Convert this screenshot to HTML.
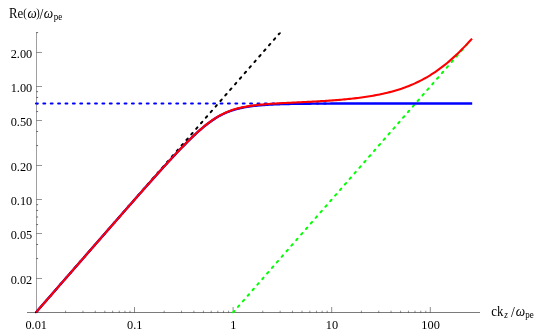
<!DOCTYPE html>
<html><head><meta charset="utf-8"><title>plot</title>
<style>
html,body{margin:0;padding:0;background:#fff;}
body{width:554px;height:336px;overflow:hidden;font-family:"Liberation Serif",serif;}
svg{display:block;will-change:transform}
</style></head><body>
<svg width="554" height="336" viewBox="0 0 554 336">
<rect width="554" height="336" fill="#fff"/>
<g fill="none" stroke="#000">
<line x1="27" y1="312.5" x2="480" y2="312.5" stroke-width="0.52"/>
<line x1="36.5" y1="32.1" x2="36.5" y2="312.7" stroke-width="0.38"/>
<line x1="65.58" y1="312.5" x2="65.58" y2="310.7" stroke-width="0.45"/>
<line x1="82.94" y1="312.5" x2="82.94" y2="310.7" stroke-width="0.45"/>
<line x1="95.26" y1="312.5" x2="95.26" y2="310.7" stroke-width="0.45"/>
<line x1="104.82" y1="312.5" x2="104.82" y2="310.7" stroke-width="0.45"/>
<line x1="112.63" y1="312.5" x2="112.63" y2="310.7" stroke-width="0.45"/>
<line x1="119.23" y1="312.5" x2="119.23" y2="310.7" stroke-width="0.45"/>
<line x1="124.94" y1="312.5" x2="124.94" y2="310.7" stroke-width="0.45"/>
<line x1="129.99" y1="312.5" x2="129.99" y2="310.7" stroke-width="0.45"/>
<line x1="134.50" y1="312.5" x2="134.50" y2="307" stroke-width="0.45"/>
<line x1="164.18" y1="312.5" x2="164.18" y2="310.7" stroke-width="0.45"/>
<line x1="181.54" y1="312.5" x2="181.54" y2="310.7" stroke-width="0.45"/>
<line x1="193.86" y1="312.5" x2="193.86" y2="310.7" stroke-width="0.45"/>
<line x1="203.42" y1="312.5" x2="203.42" y2="310.7" stroke-width="0.45"/>
<line x1="211.23" y1="312.5" x2="211.23" y2="310.7" stroke-width="0.45"/>
<line x1="217.83" y1="312.5" x2="217.83" y2="310.7" stroke-width="0.45"/>
<line x1="223.54" y1="312.5" x2="223.54" y2="310.7" stroke-width="0.45"/>
<line x1="228.59" y1="312.5" x2="228.59" y2="310.7" stroke-width="0.45"/>
<line x1="233.10" y1="312.5" x2="233.10" y2="307" stroke-width="0.45"/>
<line x1="262.78" y1="312.5" x2="262.78" y2="310.7" stroke-width="0.45"/>
<line x1="280.14" y1="312.5" x2="280.14" y2="310.7" stroke-width="0.45"/>
<line x1="292.46" y1="312.5" x2="292.46" y2="310.7" stroke-width="0.45"/>
<line x1="302.02" y1="312.5" x2="302.02" y2="310.7" stroke-width="0.45"/>
<line x1="309.83" y1="312.5" x2="309.83" y2="310.7" stroke-width="0.45"/>
<line x1="316.43" y1="312.5" x2="316.43" y2="310.7" stroke-width="0.45"/>
<line x1="322.14" y1="312.5" x2="322.14" y2="310.7" stroke-width="0.45"/>
<line x1="327.19" y1="312.5" x2="327.19" y2="310.7" stroke-width="0.45"/>
<line x1="331.70" y1="312.5" x2="331.70" y2="307" stroke-width="0.45"/>
<line x1="361.38" y1="312.5" x2="361.38" y2="310.7" stroke-width="0.45"/>
<line x1="378.74" y1="312.5" x2="378.74" y2="310.7" stroke-width="0.45"/>
<line x1="391.06" y1="312.5" x2="391.06" y2="310.7" stroke-width="0.45"/>
<line x1="400.62" y1="312.5" x2="400.62" y2="310.7" stroke-width="0.45"/>
<line x1="408.43" y1="312.5" x2="408.43" y2="310.7" stroke-width="0.45"/>
<line x1="415.03" y1="312.5" x2="415.03" y2="310.7" stroke-width="0.45"/>
<line x1="420.74" y1="312.5" x2="420.74" y2="310.7" stroke-width="0.45"/>
<line x1="425.79" y1="312.5" x2="425.79" y2="310.7" stroke-width="0.45"/>
<line x1="430.30" y1="312.5" x2="430.30" y2="307" stroke-width="0.45"/>
<line x1="36.5" y1="278.48" x2="42" y2="278.48" stroke-width="0.42"/>
<line x1="36.5" y1="258.59" x2="38.1" y2="258.59" stroke-width="0.6"/>
<line x1="36.5" y1="244.47" x2="38.1" y2="244.47" stroke-width="0.6"/>
<line x1="36.5" y1="233.52" x2="42" y2="233.52" stroke-width="0.42"/>
<line x1="36.5" y1="224.57" x2="38.1" y2="224.57" stroke-width="0.6"/>
<line x1="36.5" y1="217.00" x2="38.1" y2="217.00" stroke-width="0.6"/>
<line x1="36.5" y1="210.45" x2="38.1" y2="210.45" stroke-width="0.6"/>
<line x1="36.5" y1="204.67" x2="38.1" y2="204.67" stroke-width="0.6"/>
<line x1="36.5" y1="199.50" x2="42" y2="199.50" stroke-width="0.42"/>
<line x1="36.5" y1="165.48" x2="42" y2="165.48" stroke-width="0.42"/>
<line x1="36.5" y1="145.59" x2="38.1" y2="145.59" stroke-width="0.6"/>
<line x1="36.5" y1="131.47" x2="38.1" y2="131.47" stroke-width="0.6"/>
<line x1="36.5" y1="120.52" x2="42" y2="120.52" stroke-width="0.42"/>
<line x1="36.5" y1="111.57" x2="38.1" y2="111.57" stroke-width="0.6"/>
<line x1="36.5" y1="104.00" x2="38.1" y2="104.00" stroke-width="0.6"/>
<line x1="36.5" y1="97.45" x2="38.1" y2="97.45" stroke-width="0.6"/>
<line x1="36.5" y1="91.67" x2="38.1" y2="91.67" stroke-width="0.6"/>
<line x1="36.5" y1="86.50" x2="42" y2="86.50" stroke-width="0.42"/>
<line x1="36.5" y1="52.48" x2="42" y2="52.48" stroke-width="0.42"/>
<line x1="36.5" y1="32.59" x2="38.1" y2="32.59" stroke-width="0.6"/>
</g>
<clipPath id="pc"><rect x="26" y="32.6" width="456" height="280.9"/></clipPath>
<g clip-path="url(#pc)" fill="none">
<g stroke-width="2.0" stroke-dasharray="1.9 5.485" stroke-linecap="round">
<path d="M35.93,312.46 L284.23,27.91" stroke="#000"/>
<path d="M35.95,103.51 L330,103.51" stroke="#0000ff"/>
<path d="M233.13,312.46 L467.50,43.87" stroke="#00ff00"/>
</g>
<path d="M36.50,312.50 L37.58,310.58 L39.26,308.66 L40.93,306.73 L42.61,304.81 L44.29,302.89 L45.97,300.97 L47.65,299.04 L49.32,297.12 L51.00,295.20 L52.68,293.27 L54.36,291.35 L56.04,289.43 L57.72,287.51 L59.39,285.58 L61.07,283.66 L62.75,281.74 L64.43,279.82 L66.11,277.89 L67.78,275.97 L69.46,274.05 L71.14,272.13 L72.82,270.20 L74.50,268.28 L76.17,266.36 L77.85,264.44 L79.53,262.52 L81.21,260.60 L82.89,258.67 L84.56,256.75 L86.24,254.83 L87.92,252.91 L89.60,250.99 L91.28,249.07 L92.95,247.15 L94.63,245.23 L96.31,243.31 L97.99,241.39 L99.67,239.47 L101.35,237.55 L103.02,235.63 L104.70,233.71 L106.38,231.79 L108.06,229.88 L109.74,227.96 L111.41,226.04 L113.09,224.13 L114.77,222.21 L116.45,220.29 L118.13,218.38 L119.80,216.47 L121.48,214.55 L123.16,212.64 L124.84,210.73 L126.52,208.82 L128.19,206.91 L129.87,205.00 L131.55,203.10 L133.23,201.19 L134.91,199.29 L136.58,197.38 L138.26,195.48 L139.94,193.58 L141.62,191.69 L143.30,189.79 L144.97,187.90 L146.65,186.01 L148.33,184.12 L150.01,182.24 L151.69,180.36 L153.37,178.48 L155.04,176.60 L156.72,174.74 L158.40,172.87 L160.08,171.01 L161.76,169.15 L163.43,167.31 L165.11,165.46 L166.79,163.63 L168.47,161.80 L170.15,159.98 L171.82,158.16 L173.50,156.36 L175.18,154.57 L176.86,152.79 L178.54,151.02 L180.21,149.26 L181.89,147.52 L183.57,145.79 L185.25,144.08 L186.93,142.39 L188.60,140.72 L190.28,139.07 L191.96,137.44 L193.64,135.84 L195.32,134.27 L197.00,132.72 L198.67,131.21 L200.35,129.73 L202.03,128.29 L203.71,126.88 L205.39,125.52 L207.06,124.20 L208.74,122.92 L210.42,121.70 L212.10,120.52 L213.78,119.39 L215.45,118.31 L217.13,117.29 L218.81,116.32 L220.49,115.40 L222.17,114.54 L223.84,113.72 L225.52,112.96 L227.20,112.25 L228.88,111.59 L230.56,110.97 L232.23,110.40 L233.91,109.86 L235.59,109.37 L237.27,108.91 L238.95,108.49 L240.63,108.10 L242.30,107.74 L243.98,107.41 L245.66,107.11 L247.34,106.83 L249.02,106.57 L250.69,106.33 L252.37,106.11 L254.05,105.91 L255.73,105.72 L257.41,105.55 L259.08,105.39 L260.76,105.25 L262.44,105.11 L264.12,104.99 L265.80,104.87 L267.47,104.77 L269.15,104.67 L270.83,104.58 L272.51,104.50 L274.19,104.42 L275.87,104.35 L277.54,104.29 L279.22,104.23 L280.90,104.17 L282.58,104.12 L284.26,104.08 L285.93,104.03 L287.61,103.99 L289.29,103.96 L290.97,103.92 L292.65,103.89 L294.32,103.86 L296.00,103.84 L297.68,103.81 L299.36,103.79 L301.04,103.77 L302.71,103.75 L304.39,103.73 L306.07,103.71 L307.75,103.70 L309.43,103.68 L311.10,103.67 L312.78,103.66 L314.46,103.65 L316.14,103.64 L317.82,103.63 L319.50,103.62 L321.17,103.61 L322.85,103.60 L324.53,103.59 L326.21,103.59 L327.89,103.58 L329.56,103.58 L331.24,103.57 L332.92,103.57 L334.60,103.56 L336.28,103.56 L337.95,103.55 L339.63,103.55 L341.31,103.55 L342.99,103.54 L344.67,103.54 L346.34,103.54 L348.02,103.54 L349.70,103.53 L351.38,103.53 L353.06,103.53 L354.73,103.53 L356.41,103.53 L358.09,103.53 L359.77,103.52 L361.45,103.52 L363.12,103.52 L364.80,103.52 L366.48,103.52 L368.16,103.52 L369.84,103.52 L371.52,103.52 L373.19,103.52 L374.87,103.52 L376.55,103.52 L378.23,103.52 L379.91,103.51 L381.58,103.51 L383.26,103.51 L384.94,103.51 L386.62,103.51 L388.30,103.51 L389.97,103.51 L391.65,103.51 L393.33,103.51 L395.01,103.51 L396.69,103.51 L398.36,103.51 L400.04,103.51 L401.72,103.51 L403.40,103.51 L405.08,103.51 L406.75,103.51 L408.43,103.51 L410.11,103.51 L411.79,103.51 L413.47,103.51 L415.15,103.51 L416.82,103.51 L418.50,103.51 L420.18,103.51 L421.86,103.51 L423.54,103.51 L425.21,103.51 L426.89,103.51 L428.57,103.51 L430.25,103.51 L431.93,103.51 L433.60,103.51 L435.28,103.51 L436.96,103.51 L438.64,103.51 L440.32,103.51 L441.99,103.51 L443.67,103.51 L445.35,103.51 L447.03,103.51 L448.71,103.51 L450.39,103.51 L452.06,103.51 L453.74,103.51 L455.42,103.51 L457.10,103.51 L458.78,103.51 L460.45,103.51 L462.13,103.51 L463.81,103.51 L465.49,103.51 L467.17,103.51 L468.84,103.51 L470.52,103.51 L472.20,103.51" stroke="#0000ff" stroke-width="2.4" stroke-linejoin="round"/>
<path d="M36.50,312.50 L37.58,310.58 L39.25,308.65 L40.93,306.73 L42.61,304.81 L44.29,302.89 L45.96,300.97 L47.64,299.04 L49.32,297.12 L51.00,295.20 L52.67,293.28 L54.35,291.36 L56.03,289.43 L57.71,287.51 L59.38,285.59 L61.06,283.67 L62.74,281.75 L64.41,279.82 L66.09,277.90 L67.77,275.98 L69.45,274.06 L71.12,272.14 L72.80,270.22 L74.48,268.29 L76.16,266.37 L77.83,264.45 L79.51,262.53 L81.19,260.61 L82.86,258.69 L84.54,256.77 L86.22,254.85 L87.90,252.93 L89.57,251.01 L91.25,249.09 L92.93,247.17 L94.61,245.25 L96.28,243.33 L97.96,241.41 L99.64,239.49 L101.31,237.57 L102.99,235.65 L104.67,233.73 L106.35,231.81 L108.02,229.90 L109.70,227.98 L111.38,226.06 L113.06,224.15 L114.73,222.23 L116.41,220.32 L118.09,218.40 L119.77,216.49 L121.44,214.57 L123.12,212.66 L124.80,210.75 L126.47,208.84 L128.15,206.93 L129.83,205.02 L131.51,203.11 L133.18,201.21 L134.86,199.30 L136.54,197.40 L138.22,195.50 L139.89,193.60 L141.57,191.70 L143.25,189.81 L144.93,187.91 L146.60,186.02 L148.28,184.13 L149.96,182.25 L151.63,180.37 L153.31,178.49 L154.99,176.61 L156.67,174.74 L158.34,172.88 L160.02,171.01 L161.70,169.16 L163.38,167.31 L165.05,165.46 L166.73,163.62 L168.41,161.79 L170.08,159.97 L171.76,158.15 L173.44,156.35 L175.12,154.55 L176.79,152.77 L178.47,150.99 L180.15,149.24 L181.83,147.49 L183.50,145.76 L185.18,144.05 L186.86,142.35 L188.54,140.67 L190.21,139.02 L191.89,137.39 L193.57,135.78 L195.24,134.20 L196.92,132.65 L198.60,131.13 L200.28,129.65 L201.95,128.20 L203.63,126.78 L205.31,125.41 L206.99,124.08 L208.66,122.80 L210.34,121.56 L212.02,120.37 L213.69,119.24 L215.37,118.15 L217.05,117.11 L218.73,116.13 L220.40,115.20 L222.08,114.33 L223.76,113.50 L225.44,112.73 L227.11,112.00 L228.79,111.33 L230.47,110.69 L232.15,110.11 L233.82,109.56 L235.50,109.05 L237.18,108.58 L238.85,108.14 L240.53,107.74 L242.21,107.36 L243.89,107.01 L245.56,106.69 L247.24,106.39 L248.92,106.11 L250.60,105.85 L252.27,105.61 L253.95,105.39 L255.63,105.18 L257.30,104.99 L258.98,104.81 L260.66,104.64 L262.34,104.48 L264.01,104.33 L265.69,104.19 L267.37,104.06 L269.05,103.93 L270.72,103.81 L272.40,103.70 L274.08,103.59 L275.75,103.49 L277.43,103.39 L279.11,103.29 L280.79,103.20 L282.46,103.11 L284.14,103.02 L285.82,102.94 L287.50,102.86 L289.17,102.77 L290.85,102.69 L292.53,102.61 L294.21,102.53 L295.88,102.46 L297.56,102.38 L299.24,102.30 L300.91,102.22 L302.59,102.14 L304.27,102.06 L305.95,101.98 L307.62,101.89 L309.30,101.81 L310.98,101.72 L312.66,101.64 L314.33,101.55 L316.01,101.46 L317.69,101.36 L319.37,101.27 L321.04,101.17 L322.72,101.07 L324.40,100.96 L326.07,100.85 L327.75,100.74 L329.43,100.63 L331.11,100.51 L332.78,100.39 L334.46,100.26 L336.14,100.13 L337.82,100.00 L339.49,99.86 L341.17,99.71 L342.85,99.56 L344.52,99.41 L346.20,99.25 L347.88,99.08 L349.56,98.91 L351.23,98.73 L352.91,98.55 L354.59,98.35 L356.27,98.15 L357.94,97.95 L359.62,97.73 L361.30,97.51 L362.98,97.28 L364.65,97.04 L366.33,96.79 L368.01,96.54 L369.68,96.27 L371.36,95.99 L373.04,95.70 L374.72,95.40 L376.39,95.09 L378.07,94.77 L379.75,94.43 L381.43,94.08 L383.10,93.72 L384.78,93.34 L386.46,92.95 L388.13,92.54 L389.81,92.11 L391.49,91.67 L393.17,91.22 L394.84,90.74 L396.52,90.24 L398.20,89.73 L399.88,89.19 L401.55,88.64 L403.23,88.06 L404.91,87.46 L406.59,86.84 L408.26,86.19 L409.94,85.52 L411.62,84.82 L413.29,84.10 L414.97,83.35 L416.65,82.57 L418.33,81.77 L420.00,80.93 L421.68,80.07 L423.36,79.17 L425.04,78.25 L426.71,77.29 L428.39,76.31 L430.07,75.29 L431.74,74.23 L433.42,73.15 L435.10,72.03 L436.78,70.87 L438.45,69.68 L440.13,68.46 L441.81,67.20 L443.49,65.91 L445.16,64.58 L446.84,63.22 L448.52,61.82 L450.20,60.38 L451.87,58.91 L453.55,57.40 L455.23,55.86 L456.90,54.29 L458.58,52.67 L460.26,51.03 L461.94,49.35 L463.61,47.64 L465.29,45.89 L466.97,44.12 L468.65,42.32 L470.32,40.49 L472.00,38.63" stroke="#ff0000" stroke-width="2.1" stroke-linejoin="round"/>
</g>
<g font-family="'Liberation Serif', serif" font-size="13.4px" fill="#000">
<text transform="translate(32.2,57.83) scale(0.92,1)" text-anchor="end">2.00</text>
<text transform="translate(32.2,91.85) scale(0.92,1)" text-anchor="end">1.00</text>
<text transform="translate(32.2,125.87) scale(0.92,1)" text-anchor="end">0.50</text>
<text transform="translate(32.2,170.83) scale(0.92,1)" text-anchor="end">0.20</text>
<text transform="translate(32.2,204.85) scale(0.92,1)" text-anchor="end">0.10</text>
<text transform="translate(32.2,238.87) scale(0.92,1)" text-anchor="end">0.05</text>
<text transform="translate(32.2,283.83) scale(0.92,1)" text-anchor="end">0.02</text>
<text transform="translate(36.20,329.3) scale(0.92,1)" text-anchor="middle">0.01</text>
<text transform="translate(134.80,329.3) scale(0.92,1)" text-anchor="middle">0.1</text>
<text transform="translate(233.40,329.3) scale(0.92,1)" text-anchor="middle">1</text>
<text transform="translate(332.00,329.3) scale(0.92,1)" text-anchor="middle">10</text>
<text transform="translate(430.60,329.3) scale(0.92,1)" text-anchor="middle">100</text>
<text transform="translate(8.93,17.70) scale(0.915,1)" font-size="14px">Re</text>
<text transform="translate(23.14,17.20) scale(0.8,1)" font-size="13px">(</text>
<text transform="translate(27.47,17.70) scale(0.93,1)" font-size="14px" font-style="italic">ω</text>
<text transform="translate(36.26,17.20) scale(0.8,1)" font-size="13px">)</text>
<text transform="translate(39.60,18.90) scale(0.88,1)" font-size="15.5px">/</text>
<text transform="translate(43.76,17.70) scale(0.95,1)" font-size="14px" font-style="italic">ω</text>
<text transform="translate(53.75,19.50) scale(0.9,1)" font-size="10px">pe</text>
<text transform="translate(491.31,315.80) scale(0.915,1)" font-size="14px">ck</text>
<text transform="translate(504.30,317.60) scale(0.92,1)" font-size="10px" font-style="italic">z</text>
<text transform="translate(511.10,317.20) scale(0.88,1)" font-size="15.5px">/</text>
<text transform="translate(515.66,315.80) scale(0.95,1)" font-size="14px" font-style="italic">ω</text>
<text transform="translate(525.15,317.60) scale(0.9,1)" font-size="10px">pe</text>
</g>
</svg>
</body></html>
